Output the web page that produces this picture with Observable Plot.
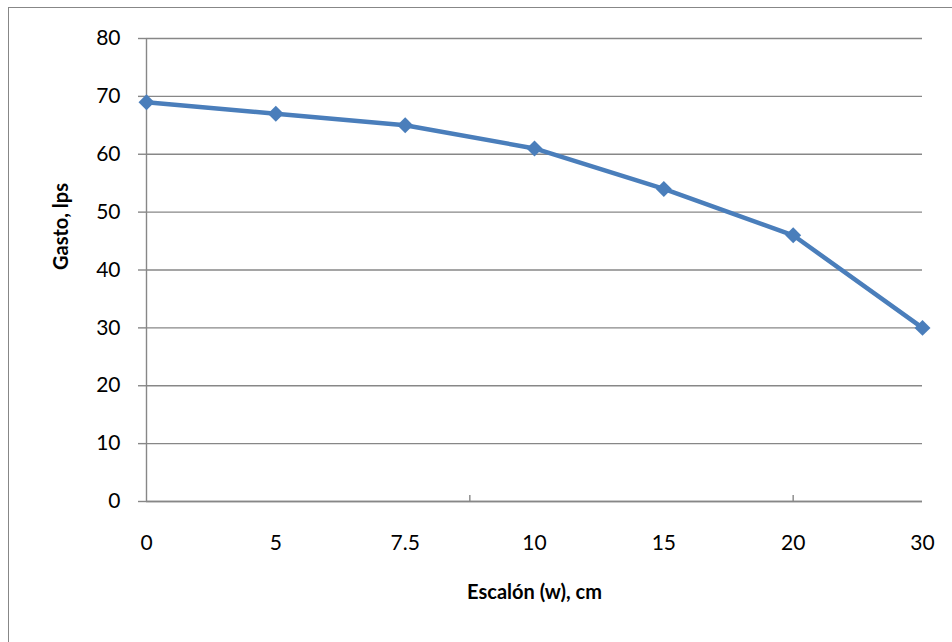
<!DOCTYPE html>
<html>
<head>
<meta charset="utf-8">
<script src="https://cdn.jsdelivr.net/npm/d3@7"></script>
<script src="https://cdn.jsdelivr.net/npm/@observablehq/plot@0.6"></script>
<style>
  html, body { margin: 0; padding: 0; background: #fff; }
  #wrap { position: relative; width: 952px; height: 642px; overflow: hidden; }
  #border { position: absolute; left: 8px; top: 7px; width: 2000px; height: 2000px;
            border-left: 1.5px solid #878787; border-top: 1.5px solid #878787; }
  #chart { position: absolute; left: 0; top: 0; }
</style>
</head>
<body>
<div id="wrap"><div id="border"></div><div id="chart"></div></div>
<script>
const categories = ["0", "5", "7.5", "10", "15", "20", "30"];
const gasto = [69, 67, 65, 61, 54, 46, 30];
const yTicks = [0, 10, 20, 30, 40, 50, 60, 70, 80];
const xMinorTicks = [2.5, 5];
const xTitle = "Escalón (w), cm";
const yTitle = "Gasto, lps";

const data = categories.map((c, i) => ({i, label: c, v: gasto[i]}));
const gray = "#878787";
const blue = "#4a7ebb";

const plot = Plot.plot({
  width: 952,
  height: 642,
  marginLeft: 146,
  marginRight: 30,
  marginTop: 38,
  marginBottom: 141,
  style: {fontFamily: "Lato, 'Open Sans', sans-serif", fontSize: "21px", color: "#000", background: "transparent"},
  x: {type: "linear", domain: [0, categories.length - 1], axis: null},
  y: {domain: [0, 80], axis: null},
  marks: [
    Plot.gridY(yTicks, {stroke: gray, strokeOpacity: 1, strokeWidth: 1.4}),
    Plot.axisY(yTicks, {tickSize: 8, tickPadding: 18, stroke: gray, strokeWidth: 1.4, fill: "#000", label: null, fontSize: 21}),
    Plot.ruleX([0], {stroke: gray, strokeWidth: 1.4}),
    Plot.ruleY([0], {stroke: gray, strokeWidth: 1.4}),
    Plot.axisX(data.map(d => d.i), {tickSize: 0, tickPadding: 34, tickFormat: i => categories[i], fill: "#000", label: null, fontSize: 21}),
    Plot.axisX(xMinorTicks, {tickSize: -6, tickFormat: () => "", stroke: gray, strokeWidth: 1.4, label: null}),
    Plot.line(data, {x: "i", y: "v", stroke: blue, strokeWidth: 4.5}),
    Plot.dot(data, {x: "i", y: "v", symbol: "diamond2", r: 7.2, fill: blue, stroke: "none"}),
    Plot.text([xTitle], {frameAnchor: "bottom", dy: 97, fontWeight: "bold", fontSize: 20, fill: "#000"}),
    Plot.text([yTitle], {frameAnchor: "left", dx: -85, rotate: -90, fontWeight: "bold", fontSize: 20, fill: "#000"})
  ]
});
document.getElementById("chart").appendChild(plot);
</script>
</body>
</html>
